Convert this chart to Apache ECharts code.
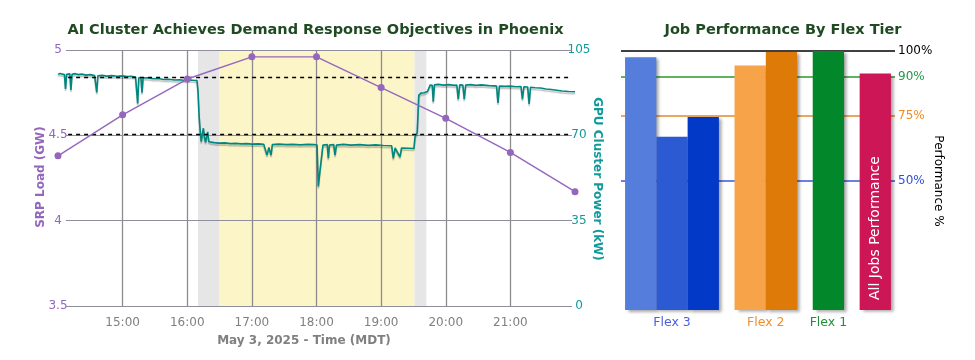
<!DOCTYPE html>
<html>
<head>
<meta charset="utf-8">
<script src="https://cdn.jsdelivr.net/npm/echarts@6/dist/echarts.min.js"></script>
<style>
html,body{margin:0;padding:0;background:#fff;}
#c{width:975px;height:360px;}
</style>
</head>
<body>
<div id="c"></div>
<script>
// ================= DATA =================
// Left chart: SRP load (GW), hourly
const srpTimes = ['14:00','15:00','16:00','17:00','18:00','19:00','20:00','21:00','22:00'];
const srpLoadGW = [4.38, 4.62, 4.83, 4.96, 4.96, 4.78, 4.60, 4.40, 4.17];

// Left chart: GPU cluster power (kW); time = minutes after 14:00 MDT
const gpuMinutes = [
  0,2,4,6,7,8,11,12,13,16,19,22,26,30,34,35,36,37,41,45,50,55,60,64,68,72,73,74,75,77,78,79,
  83,88,93,98,103,108,113,118,123,127,129,130,131,132,133,134,135,136,137,138,139,140,142,145,149,
  155,160,165,170,175,180,186,191,192.5,194,195.8,197.8,199,205,212,218,225,232,238,240.5,241.7,243,
  244.8,246,250,251,252,254,256,257.2,258.5,265,272,280,288,295,302,309.8,311.3,313,314.4,317.5,319,
  325,330.5,331.5,333.5,335,337,340,343,345.5,347.5,348.4,349.5,353,358,363,368,370.3,371.6,373,
  375.9,377.2,378.5,383,388,393,400,405,407.2,408.5,409.8,415,420,425,429.9,431.2,432.5,436.1,437.4,
  438.7,443,448,453,458,463,468,474,480
];
const gpuPowerKW = [
  95.0,95.4,95.1,94.9,89.0,95.0,95.2,88.6,95.0,95.3,94.9,95.1,94.7,94.9,94.5,94.6,87.6,94.4,94.6,94.3,
  94.5,94.2,94.4,94.1,94.2,93.9,93.8,83.1,93.6,93.7,87.5,93.5,
  93.6,93.2,93.3,92.9,93.0,92.7,92.8,92.5,92.7,92.5,92.6,88.0,78.0,72.0,67.4,70.5,72.9,69.0,67.1,69.5,
  71.4,67.5,67.2,67.0,66.8,
  66.9,66.6,66.7,66.5,66.6,66.4,66.5,66.3,66.3,61.9,65.0,61.9,66.2,66.4,66.2,66.3,66.1,66.3,66.2,66.0,49.0,54.5,
  53.7,66.0,66.2,60.6,66.0,66.1,66.2,61.9,66.0,66.3,66.0,66.2,65.9,66.1,65.8,65.7,60.6,64.8,64.7,61.2,64.8,
  64.7,64.6,69.5,71.0,86.5,87.3,87.5,88.0,90.6,90.5,83.8,90.7,90.9,90.6,90.8,90.5,90.6,84.8,90.7,
  90.6,84.8,90.6,90.8,90.5,90.7,90.4,90.3,90.2,83.3,90.2,90.1,90.2,89.9,90.0,84.8,89.9,89.8,82.9,
  89.7,89.5,89.4,89.0,88.8,88.5,88.2,88.0,87.9
];
const gpuBaselineKW = 93.8;   // upper dashed reference
const gpuTargetKW = 70.35;    // lower dashed reference (75% of baseline)
const rampWindows = [['16:10','16:30'], ['19:31','19:42']];
const eventWindow = ['16:30','19:31'];
const hourTicks = ['15:00','16:00','17:00','18:00','19:00','20:00','21:00'];
const srpTicks = [3.5, 4, 4.5, 5];
const gpuTicks = [0, 35, 70, 105];

// Right chart: job performance by flex tier (%)
const tierNames = ['Flex 3', 'Flex 2', 'Flex 1'];
const flex3Perf = [97.6, 66.9, 74.5];
const flex2Perf = [94.4, 99.6];
const flex1Perf = [100];
const allJobsPerf = [91.3];
const allJobsLabel = 'All Jobs Performance';
const perfThresholds = [100, 90, 75, 50];
const perfThresholdLabels = ['100%', '90%', '75%', '50%'];

// ================= STYLE / LAYOUT =================
const FONT = 'DejaVu Sans';
const PURPLE = '#9467bd';
const TEAL = '#00877f';
const TEAL_TXT = '#14999a';
const TITLE_C = '#1f4a22';
const GRAY_TXT = '#808080';
const threshColors = ['#000000', '#2a9a2a', '#e58a2c', '#3558d6'];
const threshTextColors = ['#000000', '#1f9a45', '#f08a24', '#2f4fd8'];
const tierColors = [['#557ddb','#2c5ad3','#0339c7'], ['#f6a34a','#dd7a08'], ['#02872a']];
const allJobsColor = ['#cd1656'];
const tierTextColors = ['#4a5ee0', '#f08f2a', '#1f8f3a'];

const toMin = s => { const p = s.split(':').map(Number); return (p[0] - 14) * 60 + p[1]; };
const fmtMin = m => (14 + Math.floor(m / 60)) + ':' + String(m % 60).padStart(2, '0');

const gpuData = gpuMinutes.map((m, i) => [m, gpuPowerKW[i]]);
const srpData = srpTimes.map((t, i) => [toMin(t), srpLoadGW[i]]);

// horizontal grid extents (minutes) of left chart
const HG_START = 7.4, HG_END = 477.2;

// right chart bar positions (in bar-width units)
const groups = [
  { name: tierNames[0], vals: flex3Perf, cols: tierColors[0], tc: tierTextColors[0] },
  { name: tierNames[1], vals: flex2Perf, cols: tierColors[1], tc: tierTextColors[1] },
  { name: tierNames[2], vals: flex1Perf, cols: tierColors[2], tc: tierTextColors[2] },
  { name: null, vals: allJobsPerf, cols: allJobsColor, all: true }
];
const barItems = [];
let cursor = 0;
groups.forEach(g => {
  const start = cursor;
  g.vals.forEach((v, j) => {
    const item = { value: [cursor + 0.5, v], itemStyle: { color: g.cols[j] } };
    if (g.all) {
      item.label = {
        show: true, formatter: allJobsLabel, position: 'insideBottom', rotate: 90,
        align: 'left', verticalAlign: 'middle', distance: 10,
        color: '#fff', fontSize: 14, fontFamily: FONT
      };
    }
    barItems.push(item);
    cursor += 1;
  });
  g.center = (start + cursor) / 2;
  cursor += 0.5;
});

const option = {
  animation: false,
  backgroundColor: '#fff',
  textStyle: { fontFamily: FONT },
  grid: [
    { left: 58, top: 50, width: 517, height: 256 },
    { left: 621, top: 51, width: 274, height: 259 }
  ],
  xAxis: [
    {
      gridIndex: 0, type: 'value', min: 0, max: 480, interval: 60, z: 1.5,
      axisLine: { show: false }, axisTick: { show: false },
      axisLabel: {
        color: GRAY_TXT, fontSize: 12, fontFamily: FONT, margin: 11,
        formatter: v => (hourTicks.indexOf(fmtMin(v)) >= 0 ? fmtMin(v) : '')
      },
      splitLine: {
        show: true,
        lineStyle: { width: 1.3, color: ['rgba(0,0,0,0)', '#8c8c8c', '#8c8c8c', '#8c8c8c', '#8c8c8c', '#8c8c8c', '#8c8c8c', '#8c8c8c', 'rgba(0,0,0,0)'] }
      }
    },
    {
      gridIndex: 1, type: 'value', min: -0.13, max: 8.63, show: false
    }
  ],
  yAxis: [
    {
      gridIndex: 0, type: 'value', min: 3.5, max: 5, interval: 0.5, position: 'left',
      axisLine: { show: false }, axisTick: { show: false }, splitLine: { show: false },
      axisLabel: { color: PURPLE, fontSize: 12, fontFamily: FONT, align: 'center', margin: 0 }
    },
    {
      gridIndex: 0, type: 'value', min: 0, max: 105, interval: 35, position: 'right',
      axisLine: { show: false }, axisTick: { show: false }, splitLine: { show: false },
      axisLabel: { color: TEAL_TXT, fontSize: 12, fontFamily: FONT, align: 'center', margin: 4 }
    },
    {
      gridIndex: 1, type: 'value', min: 0, max: 100, show: false
    }
  ],
  series: [
    {
      name: 'GPU Cluster Power', type: 'line', xAxisIndex: 0, yAxisIndex: 1,
      data: gpuData, showSymbol: false, symbol: 'none',
      lineStyle: { color: TEAL, width: 1.6, shadowColor: 'rgba(0,0,0,0.25)', shadowBlur: 1, shadowOffsetY: 2 },
      z: 2,
      markArea: {
        silent: true, z: 1,
        data: [
          [{ xAxis: toMin(rampWindows[0][0]), itemStyle: { color: '#e6e6e6' } }, { xAxis: toMin(rampWindows[0][1]) }],
          [{ xAxis: toMin(eventWindow[0]), itemStyle: { color: '#fcf5c8' } }, { xAxis: toMin(eventWindow[1]) }],
          [{ xAxis: toMin(rampWindows[1][0]), itemStyle: { color: '#e6e6e6' } }, { xAxis: toMin(rampWindows[1][1]) }]
        ]
      },
      markLine: {
        silent: true, symbol: 'none', label: { show: false }, z: 3,
        lineStyle: { type: [4, 4], color: '#000', width: 1.3 },
        data: [gpuBaselineKW, gpuTargetKW].map(v => [{ coord: [HG_START + 2, v] }, { coord: [HG_END, v] }])
      }
    },
    {
      name: 'SRP Load', type: 'line', xAxisIndex: 0, yAxisIndex: 0,
      data: srpData, symbol: 'circle', symbolSize: 7, clip: false,
      lineStyle: { color: PURPLE, width: 1.4 },
      itemStyle: { color: PURPLE },
      z: 4,
      markLine: {
        silent: true, symbol: 'none', label: { show: false }, z: 1.5,
        lineStyle: { type: 'solid', color: '#8e8e9c', width: 1 },
        data: srpTicks.map(v => [{ coord: [HG_START, v] }, { coord: [HG_END, v] }])
      }
    },
    {
      name: 'Job Performance', type: 'bar', xAxisIndex: 1, yAxisIndex: 2,
      data: barItems, barWidth: 31.3, z: 2,
      itemStyle: { shadowColor: 'rgba(0,0,0,0.35)', shadowBlur: 3, shadowOffsetX: 3, shadowOffsetY: 2 },
      markLine: {
        silent: true, symbol: 'none', z: 1,
        data: perfThresholds.map((v, i) => ({
          yAxis: v,
          lineStyle: { type: 'solid', color: threshColors[i], width: 1.5 },
          label: { show: true, position: 'end', distance: 3, formatter: perfThresholdLabels[i], color: threshTextColors[i], fontSize: 12, fontFamily: FONT }
        }))
      }
    }
  ]
};

const chart = echarts.init(document.getElementById('c'), null, { renderer: 'canvas' });
chart.setOption(option);

const txt = (text, x, y, opts) => Object.assign({
  type: 'text', x: x, y: y, silent: true,
  style: Object.assign({ text: text, fontFamily: FONT, align: 'center', verticalAlign: 'middle' }, opts.style)
}, opts.el || {});

const graphics = [
  txt('AI Cluster Achieves Demand Response Objectives in Phoenix', 315.5, 30, { style: { fontSize: 14.5, fontWeight: 'bold', fill: TITLE_C } }),
  txt('Job Performance By Flex Tier', 783, 30, { style: { fontSize: 14.5, fontWeight: 'bold', fill: TITLE_C } }),
  txt('SRP Load (GW)', 41, 177, { style: { fontSize: 12, fontWeight: 'bold', fill: PURPLE }, el: { rotation: Math.PI / 2 } }),
  txt('GPU Cluster Power (kW)', 597, 179, { style: { fontSize: 12, fontWeight: 'bold', fill: TEAL_TXT }, el: { rotation: -Math.PI / 2 } }),
  txt('May 3, 2025 - Time (MDT)', 304, 341, { style: { fontSize: 12, fontWeight: 'bold', fill: GRAY_TXT } }),
  txt('Performance %', 938, 181, { style: { fontSize: 12, fill: '#000' }, el: { rotation: -Math.PI / 2 } })
];
groups.forEach(g => {
  if (!g.name) return;
  const p = chart.convertToPixel({ xAxisIndex: 1, yAxisIndex: 2 }, [g.center, 0]);
  graphics.push(txt(g.name, p[0], p[1] + 13, { style: { fontSize: 12.5, fill: g.tc } }));
});
chart.setOption({ graphic: { elements: graphics } });
</script>
</body>
</html>
